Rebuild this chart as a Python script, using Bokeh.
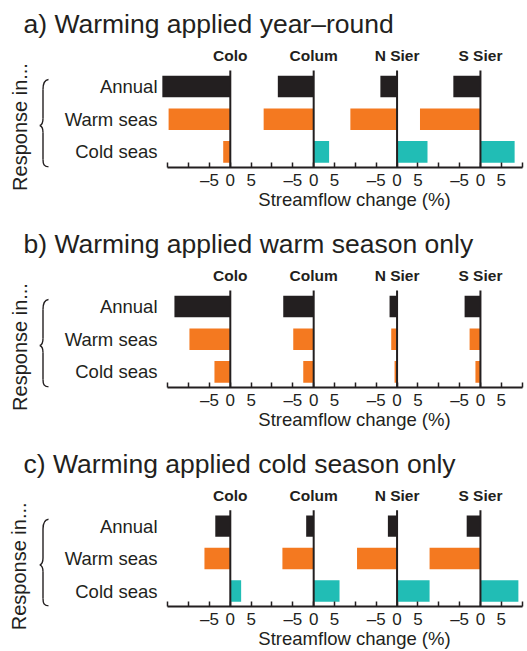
import math
from bokeh.plotting import figure
from bokeh.layouts import column
from bokeh.models import (FixedTicker, Range1d, ColumnDataSource, LinearAxis,
                          CustomJSTickFormatter)
from bokeh.core.properties import value
from bokeh.embed import file_html
from bokeh.resources import INLINE

# ---------------- data ----------------
sites = ["Colo", "Colum", "N Sier", "S Sier"]
responses = ["Annual", "Warm seas", "Cold seas"]
panel_titles = [
    "a) Warming applied year\u2013round",
    "b) Warming applied warm season only",
    "c) Warming applied cold season only",
]
tick_text = {-5: "\u20135", 0: "0", 5: "5"}
x_title = "Streamflow change (%)"
y_title = "Response in..."

# a) year-round warming
yr_annual = [-16.3, -8.6, -4.0, -6.5]
yr_warm = [-14.8, -12.0, -11.2, -14.5]
yr_cold = [-1.7, 3.7, 7.3, 8.2]
# b) warm-season-only warming
ws_annual = [-13.4, -7.3, -1.8, -3.8]
ws_warm = [-9.8, -4.9, -1.4, -2.6]
ws_cold = [-3.8, -2.5, -0.6, -1.2]
# c) cold-season-only warming
cs_annual = [-3.6, -1.8, -2.2, -3.3]
cs_warm = [-6.2, -7.5, -9.6, -12.2]
cs_cold = [2.6, 6.2, 7.8, 9.1]

panels = [
    (panel_titles[0], [yr_annual, yr_warm, yr_cold]),
    (panel_titles[1], [ws_annual, ws_warm, ws_cold]),
    (panel_titles[2], [cs_annual, cs_warm, cs_cold]),
]

# ---------------- style / layout ----------------
FONT = "Liberation Sans"
INK = "#231f20"
ORANGE = "#f47920"
TEAL = "#21bdb5"

SITE_STEP = 20          # data units between the sites' zero lines
PXU = 4.169             # pixels per data unit
ZERO_PAGE = 229.8       # page x of the first site's zero line
FL = 38                 # frame left (px)
W = 527
TOP = 40                # frame top (px) inside each panel
ROW_PX = 32.7
ANNUAL_PX = 86.0
AXIS_PX = 167.0
xs = -(ZERO_PAGE - FL) / PXU
xe = xs + (W - FL) / PXU


def xd(page_x):
    return (page_x - ZERO_PAGE) / PXU


def yd(px):
    return 3 - (px - ANNUAL_PX) / ROW_PX


def make_panel(title, series, height):
    p = figure(width=W, height=height, title=title,
               x_range=Range1d(xs, xe), y_range=Range1d(yd(AXIS_PX), yd(TOP)),
               output_backend="svg", toolbar_location=None,
               min_border_left=FL, min_border_right=0, min_border_top=TOP,
               min_border_bottom=height - int(AXIS_PX))
    p.outline_line_color = None
    p.grid.visible = False
    p.background_fill_color = "white"
    p.border_fill_color = "white"

    t = p.title
    t.align = "left"
    t.offset = 23 - FL
    t.text_font = FONT
    t.text_font_style = "normal"
    t.text_font_size = "26.5px"
    t.text_color = INK
    t.standoff = 4

    ys, lefts, rights, cols = [], [], [], []
    for r, vals in enumerate(series):
        for i, v in enumerate(vals):
            off = i * SITE_STEP
            ys.append(3 - r)
            lefts.append(off + min(v, 0))
            rights.append(off + max(v, 0))
            if r == 0:
                cols.append(INK)
            else:
                cols.append(ORANGE if v < 0 else TEAL)
    src = ColumnDataSource(dict(y=ys, left=lefts, right=rights, color=cols))
    p.hbar(y="y", left="left", right="right", height=0.66, fill_color="color",
           line_color=None, source=src)

    offs = [i * SITE_STEP for i in range(len(sites))]
    p.segment(x0=offs, y0=[yd(AXIS_PX)] * 4, x1=offs, y1=[yd(70)] * 4,
              line_width=2, line_color=INK)

    p.text(x=offs, y=[yd(54.7)] * 4, text=sites, text_align="center",
           text_baseline="middle", text_font=value(FONT), text_font_style="bold",
           text_font_size=value("15.5px"), text_color=INK)

    p.text(x=[xd(157)] * 3, y=[3, 2, 1], text=responses, text_align="right",
           text_baseline="middle", text_font=value(FONT),
           text_font_size=value("18.5px"), text_color=INK)

    # brace
    def bz(a, c0, c1, b):
        return dict(x0=xd(a[0]), y0=yd(a[1]), x1=xd(b[0]), y1=yd(b[1]),
                    cx0=xd(c0[0]), cy0=yd(c0[1]), cx1=xd(c1[0]), cy1=yd(c1[1]))
    segs = [
        bz((48, 79), (43.5, 79.5), (42.5, 83), (42.5, 89)),
        bz((42.5, 89), (42.5, 100), (42.5, 108), (42.5, 118)),
        bz((42.5, 118), (42.5, 122), (41, 124.5), (39.3, 125)),
        bz((39.3, 125), (41, 125.5), (42.5, 128), (42.5, 132)),
        bz((42.5, 132), (42.5, 145), (42.5, 152), (42.5, 159)),
        bz((42.5, 159), (42.5, 164), (43.5, 166), (48, 166.5)),
    ]
    bsrc = ColumnDataSource({k: [s[k] for s in segs] for k in segs[0]})
    p.bezier(x0="x0", y0="y0", x1="x1", y1="y1", cx0="cx0", cy0="cy0",
             cx1="cx1", cy1="cy1", source=bsrc, line_color=INK, line_width=1.4)

    # left axis carrying the vertical "Response in..." text
    ya = p.yaxis[0]
    ya.ticker = FixedTicker(ticks=[yd(126.5)])
    ya.formatter = CustomJSTickFormatter(code="return %r;" % y_title)
    ya.major_label_orientation = "parallel"
    ya.major_label_standoff = 2
    ya.major_label_text_font = FONT
    ya.major_label_text_font_size = "20px"
    ya.major_label_text_color = INK
    ya.axis_line_color = None
    ya.major_tick_line_color = None
    ya.minor_tick_line_color = None

    # bottom axis with the per-site tick labels
    ax = p.xaxis[0]
    ticks = list(range(-15, 71, 5))
    ax.ticker = FixedTicker(ticks=ticks)
    overrides = {}
    for tk in ticks:
        lab = ""
        for i in range(len(sites)):
            d = tk - i * SITE_STEP
            if d in tick_text:
                lab = tick_text[d]
        overrides[tk] = lab
    ax.major_label_overrides = overrides
    ax.bounds = (-15, 70)
    ax.axis_line_width = 2
    ax.axis_line_color = INK
    ax.major_tick_in = 5
    ax.major_tick_out = 0
    ax.major_tick_line_width = 1.5
    ax.major_tick_line_color = INK
    ax.minor_tick_line_color = None
    ax.major_label_standoff = 3
    ax.major_label_text_font = FONT
    ax.major_label_text_font_size = "17px"
    ax.major_label_text_color = INK

    # second bottom axis carrying the x title, centred under the sites
    ax2 = LinearAxis(ticker=FixedTicker(ticks=[xd(354)]),
                     formatter=CustomJSTickFormatter(code="return %r;" % x_title))
    ax2.axis_line_color = None
    ax2.major_tick_line_color = None
    ax2.minor_tick_line_color = None
    ax2.major_tick_in = 0
    ax2.major_tick_out = 0
    ax2.major_label_standoff = -4
    ax2.major_label_text_font = FONT
    ax2.major_label_text_font_size = "18.5px"
    ax2.major_label_text_color = INK
    p.add_layout(ax2, "below")
    return p


figs = [
    make_panel(panels[0][0], panels[0][1], 220),
    make_panel(panels[1][0], panels[1][1], 220),
    make_panel(panels[2][0], panels[2][1], 211),
]
layout = column(*figs, spacing=0)
open("out.html", "w").write(file_html(layout, INLINE))
